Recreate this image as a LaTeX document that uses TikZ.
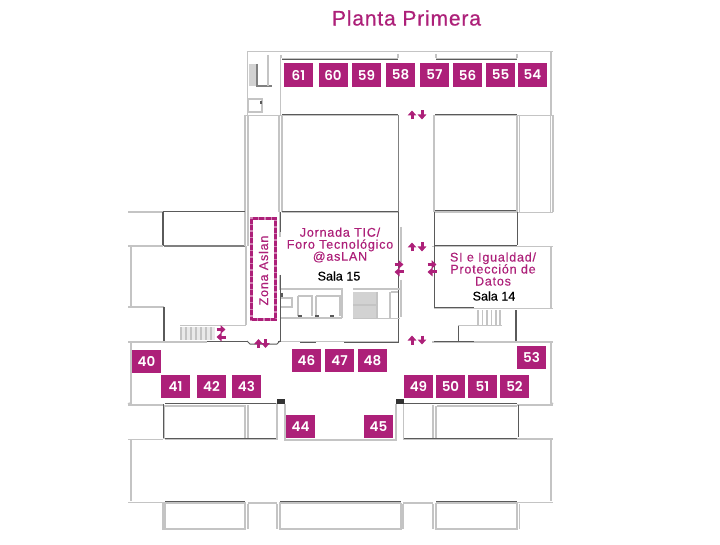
\documentclass[tikz,border=0pt]{standalone}
\usepackage{fontspec}
\setmainfont{Liberation Sans}[FakeBold=0.25]
\newfontfamily\boothfont{Poppins}[BoldFont={Poppins SemiBold}]
\newfontfamily\labelfont{Liberation Sans}[LetterSpace=6,FakeBold=0.2]
\newfontfamily\titlefont{Liberation Sans}[LetterSpace=4,FakeBold=0.6]
\usetikzlibrary{arrows.meta}
\definecolor{mag}{HTML}{AD2079}
\definecolor{wallg}{HTML}{C4C4C4}
\definecolor{walld}{HTML}{5A5A5A}
\definecolor{stairg}{HTML}{D2D2D2}
\tikzset{
  wall/.style={draw=wallg,line width=1.9pt},
  dwall/.style={draw=walld,line width=1pt},
  thinw/.style={draw=wallg,line width=1.2pt},
  booth/.style={fill=mag,text=white,minimum width=29pt,minimum height=23.5pt,inner sep=0pt,font=\boothfont\bfseries\fontsize{13.5}{13.5}\selectfont},
  roomlabel/.style={text=mag,align=center,inner sep=0pt,font=\labelfont\fontsize{12.6}{12}\selectfont},
  salalabel/.style={text=black,inner sep=0pt,font=\fontsize{12.6}{12.6}\selectfont},
  marrow/.style={draw=mag,line width=3pt,-{Triangle[length=5pt,width=8.5pt]},shorten >=0pt},
}
\newcommand{\boothat}[3]{\node[booth] (b#3) at (#1,#2) {#3};}
\begin{document}
\begin{tikzpicture}[x=1pt,y=-1pt]
\useasboundingbox (0,0) rectangle (720,545);
\fill[white] (0,0) rectangle (720,545);
% ---- top block
\draw[wall] (247.5,115) -- (247.5,51.5) -- (553,51.5);
\draw[wall] (551,51.5) -- (551,115);
\draw[wall] (280.5,58) -- (280.5,115);
\draw[thinw] (281,55) -- (281,58) (398,54) -- (398,58) (436,54) -- (436,58) (517,54) -- (517,58);
\draw[wall] (282,58.5) -- (398,58.5) (436,58.5) -- (517,58.5);
\draw[dwall,line width=.7pt] (282,59.5) -- (398,59.5) (436,59.5) -- (517,59.5);
% top-left services
\fill[stairg] (249,64) rectangle (257,86);
\draw[thinw,draw=gray] (257,64) -- (257,86) -- (272,86);
\draw[thinw] (268,55) -- (268,86);
\draw[thinw] (248,99) rectangle (262,112);
\draw[dwall,line width=1.4pt] (261,101) -- (261,104);
% corridor edges, rooms
\draw[wall] (245,115.5) -- (398,115.5) (434,115.5) -- (553,115.5);
\draw[dwall] (282,114.5) -- (398,114.5) (435,114.5) -- (517,114.5);
\draw[wall] (245,115) -- (245,212) (248,115) -- (248,212) (279,115) -- (279,212) (282,115) -- (282,212);
\draw[wall] (282,212.5) -- (398,212.5) (435,212) -- (517,212);
\draw[dwall,line width=1.3pt] (282,211.5) -- (398,211.5);
\draw[dwall] (435,211) -- (517,211);
\draw[wall,draw=gray] (398.5,115) -- (398.5,212);
\draw[wall] (434,115) -- (434,212);
\draw[wall] (517,115) -- (517,212) (519.5,115) -- (519.5,212) (550.5,115) -- (550.5,212) (553,115) -- (553,212);
\draw[wall] (517,212.5) -- (553,212.5);
% ---- middle left wing
\draw[wall] (128,212) -- (163,212);
\draw[dwall] (163,212) -- (245,212);
\draw[dwall,line width=1.2pt] (163,212) -- (163,246);
\draw[wall] (128,246) -- (163,246);
\draw[wall,draw=gray] (164,246) -- (245,246);
\draw[wall] (245,212) -- (245,246) (248,212) -- (248,246) (246,246) -- (246,325);
\draw[wall] (131,246) -- (131,307) (128,307) -- (164,307);
\draw[dwall,line width=1.2pt] (164,307) -- (164,341);
\draw[wall] (128,342) -- (207,342);
\draw[wall] (180,325.5) -- (246,325.5);
\fill[stairg,opacity=.45] (180,327) rectangle (215,340);
\foreach \x in {181,186,...,211} \draw[thinw] (\x,327) -- (\x,340);
\draw[dwall] (207,341) -- (247,341) (278,341) -- (280,341);
\draw[dwall] (247,341) -- (250,344) -- (277,344) -- (280,341);
\draw[wall] (131,343) -- (131,403) -- (128,404);
% ---- sala 15
\draw[wall] (280,212) -- (280,237) (280,275) -- (280,290);
\draw[dwall] (280,212) -- (280,232) (280,275) -- (280,342);
\draw[wall] (401,227) -- (401,262);
\draw[dwall] (398.5,212) -- (398.5,343);
\draw[wall] (401,280) -- (401,317);
% services
\draw[wall] (281,289) -- (342,289) -- (342,318);
\draw[wall] (281,298) -- (292,298) -- (292,307) -- (281,307);
\draw[dwall,line width=1.2pt] (282,293) -- (282,297);
\draw[wall] (298,296) -- (298,316) (298,296) -- (312,296) -- (312,316);
\draw[wall] (316,296) -- (316,316) (316,296) -- (340,296) -- (340,316);
\draw[wall] (281,318) -- (342,318);
\draw[dwall,line width=2pt] (298,315.5) -- (302,315.5) (315,315.5) -- (319,315.5) (330,315.5) -- (334,315.5);
\fill[stairg] (353,292) rectangle (378,304);
\fill[stairg] (353,306) rectangle (378,319);
\draw[thinw] (353,289) -- (400,289) (353,318.5) -- (400,318.5) (353,305) -- (378,305);
\draw[thinw] (390,292) -- (390,318) (391,292) -- (398,292) (377,292) -- (377,318);
\draw[wall] (281,341.5) -- (398,341.5);
\draw[dwall] (300,342.5) -- (316,342.5);
\draw[dwall] (344,342.5) -- (398,342.5);
% ---- sala 14
\draw[wall] (432,246.5) -- (553,246.5);
\draw[dwall] (434,212) -- (434,246) (434,245.5) -- (517,245.5);
\draw[dwall] (434,246) -- (434,308) (517.5,212) -- (517.5,245);
\draw[wall] (551,246) -- (551,308) (434,308.5) -- (553,308.5);
\draw[dwall] (434,307.5) -- (474,307.5);
\foreach \x in {478,482.5,...,496} \draw[thinw] (\x,310) -- (\x,325);
\draw[thinw] (500,310) -- (500,325);
\draw[dwall] (458,326) -- (458,341);
\draw[wall] (458,325.5) -- (502,325.5);
\draw[dwall,line width=1.2pt] (516,310) -- (516,341);
\draw[wall] (432,342) -- (553,342);
\draw[dwall] (434,341) -- (474,341);
\draw[wall] (551,343) -- (551,403) -- (553,404);
% ---- lower level
\draw[wall] (128,405) -- (163,405);
\draw[wall] (164,405) -- (164,439);
\draw[dwall] (163,404) -- (163,438);
\draw[wall] (165,406) -- (245,406) (245,405) -- (245,439) (248,405) -- (248,439);
\draw[dwall] (165,403.5) -- (277,403.5);
\draw[wall] (165,439.5) -- (277,439.5);
\draw[dwall] (165,438.5) -- (277,438.5);
\draw[wall] (277,403) -- (277,440);
\draw[wall] (285,404) -- (285,440) -- (396,440) -- (396,404);
\draw[wall] (403.5,404) -- (403.5,440);
\fill[black!80] (277,399) rectangle (285,404);
\fill[black!80] (396,399) rectangle (404,404);
\draw[wall] (433,405) -- (433,439) (436,406) -- (436,439);
\draw[wall] (437,406) -- (517,406);
\draw[dwall] (404,403.5) -- (517,403.5);
\draw[wall] (517,405) -- (553,405) (517,439) -- (553,439);
\draw[dwall] (518,405) -- (518,437);
\draw[wall] (404,439.5) -- (517,439.5);
\draw[dwall] (404,438.5) -- (517,438.5);
\draw[wall] (128,439.5) -- (163,439.5);
% big hall
\draw[wall] (131,440) -- (131,501) (551,440) -- (551,501);
\draw[wall] (128,502.5) -- (163,502.5) (517,502.5) -- (553,502.5);
\draw[wall] (163,503) -- (245,503) (279,503) -- (401,503) (436,503) -- (517,503);
\draw[dwall,line width=1.2pt] (165,501.5) -- (245,501.5) (280,501.5) -- (401,501.5) (436,501.5) -- (517,501.5);
\draw[wall] (248,503) -- (277,503) (403,503) -- (433,503);
\draw[wall] (163,502) -- (163,529) -- (245,529) -- (245,502);
\draw[wall] (165,503) -- (165,529) (248,504) -- (248,529) (277,504) -- (277,529) (280,503) -- (280,529) -- (401,529) -- (401,503);
\draw[wall] (403,504) -- (403,529) (433,504) -- (433,529) (436,503) -- (436,529) -- (517,529) -- (517,503) (519.5,504) -- (519.5,529);
% ---- booths
\boothat{298.5}{75}{61}\boothat{333}{75}{60}\boothat{366.5}{75}{59}\boothat{400.5}{75}{58}
\boothat{434.5}{75}{57}\boothat{467.5}{75}{56}\boothat{500.5}{75}{55}\boothat{532.5}{75}{54}
\boothat{146.5}{361.5}{40}\boothat{175.5}{386.5}{41}\boothat{211.5}{386.5}{42}\boothat{246.5}{386.5}{43}
\boothat{300.5}{426.5}{44}\boothat{378.5}{426.5}{45}
\boothat{306.5}{360.5}{46}\boothat{339.5}{360.5}{47}\boothat{372.5}{360.5}{48}
\boothat{418.5}{386.5}{49}\boothat{450.5}{386.5}{50}\boothat{482.5}{386.5}{51}\boothat{514.5}{386.5}{52}
\boothat{531.5}{357.5}{53}
% ---- zona aslan
\node[draw=mag!55,line width=3pt,minimum width=24pt,minimum height=101pt,inner sep=0pt] (zonabg) at (263.5,269) {};
\node[draw=mag,line width=3pt,dash pattern=on 5pt off 1.5pt,minimum width=24pt,minimum height=101pt,inner sep=0pt] (zona) at (263.5,269) {};
\node[roomlabel,rotate=90] (zonat) at (263.5,270.5) {Zona Aslan};
% ---- labels
\node[text=mag,inner sep=0pt,font=\titlefont\fontsize{21}{21}\selectfont] (title) at (406.5,18) {Planta Primera};
\node[roomlabel] (jornada) at (340,245) {Jornada TIC/\\Foro Tecnológico\\@asLAN};
\node[salalabel] (s15) at (339,276) {Sala 15};
\node[roomlabel] (proteccion) at (493,269) {SI e Igualdad/\\Protección de\\Datos};
\node[salalabel] (s14) at (494,296) {Sala 14};
% ---- arrows
\foreach \y in {115,247,340}{
  \draw[marrow] (412,\y+4.5) -- (412,\y-4.5);
  \draw[marrow] (422,\y-4.5) -- (422,\y+4.5);
}
\draw[marrow] (258.5,348) -- (258.5,339);
\draw[marrow] (265.5,339) -- (265.5,348);
\foreach \x/\ya/\yb in {399/264.5/272,432/264.5/272,221/329.5/337}{
  \draw[marrow] (\x-4.5,\ya) -- (\x+4.5,\ya);
  \draw[marrow] (\x+4.5,\yb) -- (\x-4.5,\yb);
}
\end{tikzpicture}
\end{document}
